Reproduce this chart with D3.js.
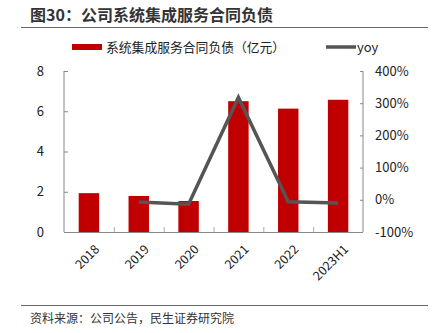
<!DOCTYPE html>
<html><head><meta charset="utf-8">
<script src="https://cdn.jsdelivr.net/npm/d3@7"></script>
<style>body{margin:0;background:#fff}svg{display:block}text{font-family:"Noto Sans CJK SC","Noto Sans",sans-serif}</style>
</head><body><svg id="c" width="435" height="333"></svg>
<script>
const categories = ["2018","2019","2020","2021","2022","2023H1"];
const liabilities = [1.93,1.79,1.54,6.5,6.13,6.57];
const yoy = [null,-7,-14,318,-6,-10];
const leftTicks = [0,2,4,6,8];
const rightTicks = [-100,0,100,200,300,400];
const title = "图30：公司系统集成服务合同负债";
const barLegend = "系统集成服务合同负债（亿元）";
const lineLegend = "yoy";
const source = "资料来源：公司公告，民生证券研究院";

const svg = d3.select("#c");
const L=64, R=363, T=71, B=232;
const x = d3.scaleBand().domain(categories).range([L,R]).paddingInner(0.59).paddingOuter(0.295);
const xb = d3.scaleBand().domain(categories).range([L,R]);
const yL = d3.scaleLinear().domain([0,8]).range([B,T]);
const yR = d3.scaleLinear().domain([-100,400]).range([B,T]);

// title
svg.append("text").attr("x",30).attr("y",21).attr("font-size",16).attr("font-weight","bold").attr("fill","#333").text(title);
svg.append("line").attr("x1",21).attr("x2",428).attr("y1",27.5).attr("y2",27.5).attr("stroke","#666").attr("stroke-width",1);

// legend
svg.append("rect").attr("x",72).attr("y",44).attr("width",30).attr("height",6).attr("fill","#C00000");
svg.append("text").attr("x",106).attr("y",52).attr("font-size",12.8).attr("fill","#222").text(barLegend);
svg.append("line").attr("x1",326).attr("x2",356).attr("y1",47).attr("y2",47).attr("stroke","#555").attr("stroke-width",3.5);
svg.append("text").attr("x",357).attr("y",52).attr("font-size",13).attr("fill","#222").text(lineLegend);

// bars
svg.append("g").selectAll("rect").data(liabilities).join("rect")
  .attr("x",(d,i)=>x(categories[i])).attr("width",x.bandwidth())
  .attr("y",d=>yL(d)).attr("height",d=>B-yL(d)).attr("fill","#C00000");

// axes
const axCol="#888";
const gl = svg.append("g").attr("transform",`translate(${L},0)`)
  .call(d3.axisLeft(yL).tickValues(leftTicks).tickSize(-4).tickPadding(20));
const gr = svg.append("g").attr("transform",`translate(${R},0)`)
  .call(d3.axisRight(yR).tickValues(rightTicks).tickSize(-3).tickPadding(12).tickFormat(d=>d+"%"));
[gl,gr].forEach(g=>{g.selectAll("path,line").attr("stroke",axCol);g.selectAll("text").attr("font-size",13).attr("fill","#222").attr("font-family","'Noto Sans','DejaVu Sans',sans-serif");});
gl.select(".domain").attr("d",`M0,${T}H0V${B}`);
gr.select(".domain").attr("d",`M0,${T}V${B}`);

// bottom axis with separators
svg.append("line").attr("x1",L).attr("x2",R).attr("y1",B+0.5).attr("y2",B+0.5).attr("stroke",axCol);
svg.append("g").selectAll("line").data(categories.slice(1)).join("line")
  .attr("x1",d=>xb(d)+0.5).attr("x2",d=>xb(d)+0.5).attr("y1",B-5).attr("y2",B).attr("stroke","#aaa");
svg.append("g").selectAll("text").data(categories).join("text")
  .attr("transform",d=>`translate(${xb(d)+xb.bandwidth()/2+5},${B+12}) rotate(-45)`)
  .attr("text-anchor","end").attr("dy","0.7em").attr("font-size",12.5).attr("fill","#222")
  .attr("font-family","'Noto Sans','DejaVu Sans',sans-serif").text(d=>d);

// line
const line = d3.line().defined(d=>d.v!==null).x(d=>xb(d.c)+xb.bandwidth()/2).y(d=>yR(d.v));
svg.append("path").datum(categories.map((c,i)=>({c,v:yoy[i]})))
  .attr("d",line).attr("fill","none").attr("stroke","#555").attr("stroke-width",3.5).attr("stroke-linejoin","miter");

// footer
svg.append("line").attr("x1",21).attr("x2",428).attr("y1",305.5).attr("y2",305.5).attr("stroke","#666");
svg.append("text").attr("x",30).attr("y",323).attr("font-size",12).attr("fill","#333").text(source);
</script></body></html>
